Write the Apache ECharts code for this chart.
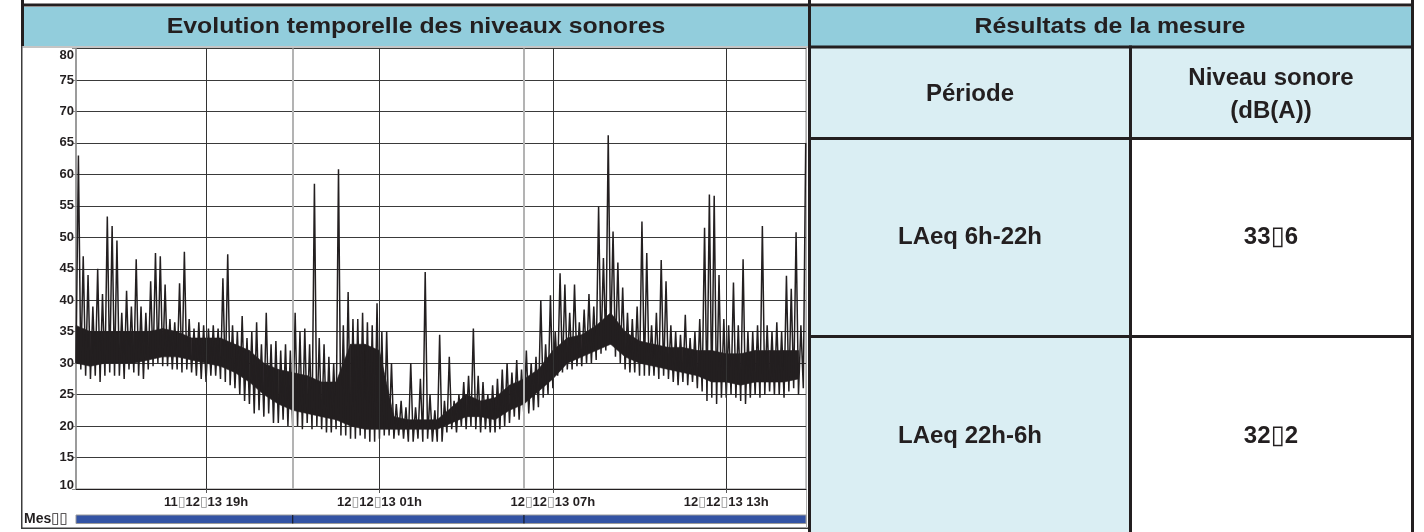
<!DOCTYPE html>
<html><head><meta charset="utf-8">
<script src="https://cdn.jsdelivr.net/npm/echarts@6/dist/echarts.min.js"></script>
<style>html,body{margin:0;padding:0;background:#fff}#c{width:1424px;height:532px}</style>
</head><body><div id="c"></div>
<script>
// ---------- texts ----------
const chartTitle = 'Evolution temporelle des niveaux sonores';
const tableTitle = 'Résultats de la mesure';
const colHeaders = ['Période', 'Niveau sonore\n(dB(A))'];
const periods = ['LAeq 6h-22h', 'LAeq 22h-6h'];
const levels = ['33▯6', '32▯2'];
const barLabel = 'Mes▯▯';

// ---------- axes ----------
const yMin = 10, yMax = 80, yStep = 5;
const xTickHours = [19, 25, 31, 37];             // hours since 11/12/13 00h
const xTickLabels = ['11▯12▯13 19h', '12▯12▯13 01h', '12▯12▯13 07h', '12▯12▯13 13h'];
const periodBoundaries = [22, 30];               // 22h and 06h
const startHour = 14.5, endHour = 39.76;

// ---------- measured signal (10-minute bins: min and max level, dB(A)) ----------
const stepHour = 1 / 6;
const lo = [
 30,29,28,27.5,28,27,28,28.5,28,28,
 27.5,29,28.5,28,27.5,29,29.5,30,29.5,29.5,
 29,29,28.5,29,28.5,28,27.5,27,28,28,
 27.5,27,26.5,26,25,24,23.5,22,22.5,21.5,
 22,20.5,20.5,21,20,19.5,20,19.5,20.5,19.5,
 20,19.5,19,19,19.5,18.5,18.5,18,18,18.5,
 18,17.5,17.5,18,18.5,18.5,18,18.5,18,17.5,
 17.5,18,17.5,18,17.5,17.5,17.5,19,19.5,19,
 20,19.5,20,19.5,19,19.5,19,19,19.5,20,
 20.5,21.5,21,21.5,22,22.5,23,24.5,25,26,
 28,28.5,29,29,29.5,29.5,30,30,30.5,31.5,
 32,33,31,30,29,28.5,28.5,28,28,28,
 28,27.5,28,27.5,27,26.5,27,26.5,27,26,
 25.5,24,24.5,23.5,24.5,24.5,25,24.5,24,23.5,
 24.5,25,24.5,25,25.5,25,25,24.5,25.5,26,
 25,26
];
const hi = [
 63,47,44,39,45,41,53.3,51.8,49.5,38,
 41.5,39,46.5,39,38,43,47.5,47,42.5,37,
 36.5,42.7,47.7,37,35.5,36.5,36,35.5,36,35.5,
 43.5,47.3,36,35,37.5,34,35,36.5,33,38,
 33,33.5,32,33,32,38,35,35.5,33,58.5,
 34,33,31,30,60.8,36,41.3,37,37,38,
 36.5,36,39.5,35,35,30,23.5,24,23,30,
 23,27.5,44.5,25,22.5,34.5,24,31,24,25,
 27,28,35.5,28,27,25,26.5,27.5,29,30,
 28.5,30.5,29,32,30,31,40,33,40.8,35,
 44.3,42.5,38,42.5,36.5,38.5,41,39,54.9,46.7,
 66.2,50.9,46,42,38,37,39,52.5,47.5,36,
 38,46.4,43,36,35,34.5,37.7,34,35,37,
 51.5,56.8,56.6,44,37,36,42.8,36,46.5,35,
 35,36,51.8,36,35,36.5,35,43.9,41.8,50.8,
 36,65
];
// solid core of the trace (30-minute steps from 14h30)
const coreStep = 0.5;
const coreLo = [
 30,29.5,30,30,30,30.5,31,31,30.5,30,
 29.5,28.5,27,25,23.5,22.5,22,21.5,21,20,
 19.5,19.5,19.5,19.5,19.5,19.5,20.5,21.5,21.5,21,
 22.5,23.5,25.5,27.5,30,31,32,33,31,30,
 29.5,29,28.5,28,27,27,26.5,27,27,27,
 27.5
];
const coreHi = [
 36,35,35,35,35,35,35.5,35,34,34,
 34,33,32,30,29,28.5,28,27,27,33,
 33,32,21.5,21,21,21,23,25,24,24.5,
 26.5,27.5,29,32,34,34.5,36,38,35,33.5,
 33,32.5,32.5,32,32,31.5,31.5,32,32,32,
 32
];

// ---------- build ----------
const FONT = '"Liberation Sans", Arial, Helvetica, sans-serif';
const INK = '#231f20';
const TOFU = { color: '#8f8f8f', fontSize: 14, fontWeight: 'normal', fontFamily: 'DejaVu Sans' };
const tofu = s => s.replace(/▯/g, '{t|▯}');

const noise = [];
lo.forEach((v, i) => {
  const t = startHour + i * stepHour;
  noise.push([t, v]);
  noise.push([t + stepHour / 2, hi[i]]);
});
// segments of the solid core band: [h0, lo0, hi0, h1, lo1, hi1]
const coreSegs = [];
for (let i = 0; i < coreLo.length - 1; i++) {
  coreSegs.push([startHour + i * coreStep, coreLo[i], coreHi[i],
                 startHour + (i + 1) * coreStep, coreLo[i + 1], coreHi[i + 1]]);
}

const vLines = xTickHours.map(h => ({ xAxis: h, lineStyle: { color: '#333', width: 1, type: 'solid' } }))
  .concat(periodBoundaries.map(h => ({ xAxis: h, lineStyle: { color: '#b3b3b3', width: 2, type: 'solid' } })));

const chart = echarts.init(document.getElementById('c'), null, { width: 1424, height: 532 });

const lbl = { fontFamily: FONT, fontWeight: 'bold', fontSize: 13, color: INK };

const graphics = [
  // header bands
  { type: 'rect', shape: { x: 24, y: 7, width: 784, height: 39 }, style: { fill: '#92cddc' } },
  { type: 'rect', shape: { x: 811, y: 7, width: 600, height: 39 }, style: { fill: '#92cddc' } },
  // table cell fills
  { type: 'rect', shape: { x: 811, y: 48, width: 318, height: 484 }, style: { fill: '#daeef3' } },
  { type: 'rect', shape: { x: 1132, y: 48, width: 279, height: 89 }, style: { fill: '#daeef3' } },
  // frame lines
  { type: 'rect', shape: { x: 21, y: 3.5, width: 1393, height: 3 }, style: { fill: INK } },
  { type: 'rect', shape: { x: 21, y: 0, width: 3, height: 46 }, style: { fill: INK } },
  { type: 'line', shape: { x1: 21.75, y1: 46, x2: 21.75, y2: 528.5 }, style: { stroke: '#3c3c3c', lineWidth: 1.5 } },
  { type: 'line', shape: { x1: 21, y1: 528.25, x2: 808, y2: 528.25 }, style: { stroke: '#3c3c3c', lineWidth: 1.5 } },
  { type: 'line', shape: { x1: 22, y1: 47, x2: 808, y2: 47 }, style: { stroke: '#8a8a8a', lineWidth: 1 } },
  { type: 'line', shape: { x1: 806.5, y1: 47, x2: 806.5, y2: 528 }, style: { stroke: '#b0b0b0', lineWidth: 1 } },
  { type: 'rect', shape: { x: 808, y: 0, width: 3, height: 532 }, style: { fill: INK } },
  { type: 'rect', shape: { x: 1411, y: 0, width: 3, height: 532 }, style: { fill: INK } },
  { type: 'rect', shape: { x: 808, y: 45.5, width: 606, height: 3 }, style: { fill: INK } },
  { type: 'rect', shape: { x: 808, y: 137, width: 606, height: 3 }, style: { fill: INK } },
  { type: 'rect', shape: { x: 808, y: 335, width: 606, height: 3 }, style: { fill: INK } },
  { type: 'rect', shape: { x: 1129, y: 45.5, width: 3, height: 487 }, style: { fill: INK } },
  // titles
  { type: 'text', x: 416, y: 27, scaleX: 1.13,
    style: { text: chartTitle, fontFamily: FONT, fontWeight: 'bold', fontSize: 22, fill: INK, textAlign: 'center', textVerticalAlign: 'middle' } },
  { type: 'text', x: 1110, y: 27, scaleX: 1.13,
    style: { text: tableTitle, fontFamily: FONT, fontWeight: 'bold', fontSize: 22, fill: INK, textAlign: 'center', textVerticalAlign: 'middle' } },
  // table texts
  { type: 'text', x: 970, y: 94,
    style: { text: colHeaders[0], fontFamily: FONT, fontWeight: 'bold', fontSize: 24, fill: INK, textAlign: 'center', textVerticalAlign: 'middle' } },
  { type: 'text', x: 1271, y: 95,
    style: { text: colHeaders[1], fontFamily: FONT, fontWeight: 'bold', fontSize: 24, lineHeight: 33, fill: INK, textAlign: 'center', textVerticalAlign: 'middle' } },
  { type: 'text', x: 970, y: 237,
    style: { text: periods[0], fontFamily: FONT, fontWeight: 'bold', fontSize: 24, fill: INK, textAlign: 'center', textVerticalAlign: 'middle' } },
  { type: 'text', x: 970, y: 436,
    style: { text: periods[1], fontFamily: FONT, fontWeight: 'bold', fontSize: 24, fill: INK, textAlign: 'center', textVerticalAlign: 'middle' } },
  { type: 'text', x: 1271, y: 237,
    style: { text: tofu(levels[0]), fontFamily: FONT, fontWeight: 'bold', fontSize: 24, fill: INK, textAlign: 'center', textVerticalAlign: 'middle',
      rich: { t: Object.assign({}, TOFU, { fontSize: 26 }) } } },
  { type: 'text', x: 1271, y: 436,
    style: { text: tofu(levels[1]), fontFamily: FONT, fontWeight: 'bold', fontSize: 24, fill: INK, textAlign: 'center', textVerticalAlign: 'middle',
      rich: { t: Object.assign({}, TOFU, { fontSize: 26 }) } } },
  // bar label
  { type: 'text', x: 24, y: 519,
    style: { text: tofu(barLabel), fontFamily: FONT, fontWeight: 'bold', fontSize: 14, fill: INK, textAlign: 'left', textVerticalAlign: 'middle',
      rich: { t: Object.assign({}, TOFU, { fontSize: 15 }) } } }
];

chart.setOption({
  animation: false,
  backgroundColor: '#ffffff',
  grid: [
    { left: 76, top: 48.5, width: 730, height: 440.5, show: true, borderColor: '#8c8c8c', borderWidth: 1, backgroundColor: '#fff' },
    { left: 76, top: 515, width: 730, height: 8.5 }
  ],
  xAxis: [
    { type: 'value', gridIndex: 0, min: startHour, max: endHour,
      splitLine: { show: false },
      axisLine: { show: true, lineStyle: { color: INK, width: 1 } },
      axisTick: { show: true, customValues: xTickHours, length: 4, lineStyle: { color: '#555' } },
      axisLabel: Object.assign({ customValues: xTickHours, margin: 6,
        formatter: v => tofu(xTickLabels[xTickHours.indexOf(v)] || ''),
        rich: { t: TOFU } }, lbl) },
    { type: 'value', gridIndex: 1, min: startHour, max: endHour, show: false }
  ],
  yAxis: [
    { type: 'value', gridIndex: 0, min: yMin, max: yMax, interval: yStep,
      axisLine: { show: true, lineStyle: { color: '#8c8c8c', width: 1.5 } },
      axisTick: { show: true, length: 4, lineStyle: { color: '#8c8c8c' } },
      splitLine: { show: true, lineStyle: { color: '#3a3a3a', width: 1 } },
      axisLabel: Object.assign({ margin: 2,
        formatter: v => v === yMax ? '{mx|' + v + '}' : (v === yMin ? '{mn|' + v + '}' : String(v)),
        rich: {
          mx: Object.assign({ padding: [13, 0, 0, 0] }, lbl),
          mn: Object.assign({ padding: [0, 0, 7, 0] }, lbl)
        } }, lbl) },
    { type: 'value', gridIndex: 1, min: 0, max: 1, show: false }
  ],
  series: [
    { type: 'line', name: 'grid', data: [], symbol: 'none', silent: true, z: 1,
      markLine: { silent: true, symbol: ['none', 'none'], label: { show: false }, animation: false, data: vLines } },
    { type: 'custom', name: 'core', data: coreSegs, silent: true, z: 3,
      renderItem: (p, api) => {
        const a = api.coord([api.value(0), api.value(1)]);
        const b = api.coord([api.value(3), api.value(4)]);
        const c = api.coord([api.value(3), api.value(5)]);
        const d = api.coord([api.value(0), api.value(2)]);
        return { type: 'polygon', shape: { points: [a, b, c, d] }, style: { fill: INK, stroke: INK, lineWidth: 0.6 } };
      } },
    { type: 'line', name: 'LAeq', data: noise, symbol: 'none', silent: true, sampling: null,
      lineStyle: { color: INK, width: 1.5 }, z: 4 },
    { type: 'custom', xAxisIndex: 1, yAxisIndex: 1, silent: true, data: [[startHour, endHour]],
      renderItem: (p, api) => {
        const a = api.coord([api.value(0), 1]);
        const b = api.coord([api.value(1), 0]);
        return { type: 'rect', shape: { x: a[0], y: a[1], width: b[0] - a[0], height: b[1] - a[1] },
          style: { fill: '#3353a4', stroke: '#9a9a9a', lineWidth: 1 } };
      } },
    { type: 'custom', xAxisIndex: 1, yAxisIndex: 1, silent: true, data: periodBoundaries.map(h => [h]), z: 5,
      renderItem: (p, api) => {
        const a = api.coord([api.value(0), 1]);
        const b = api.coord([api.value(0), 0]);
        return { type: 'line', shape: { x1: a[0], y1: a[1], x2: b[0], y2: b[1] }, style: { stroke: '#111', lineWidth: 1 } };
      } }
  ],
  graphic: graphics
});
</script>
</body></html>
